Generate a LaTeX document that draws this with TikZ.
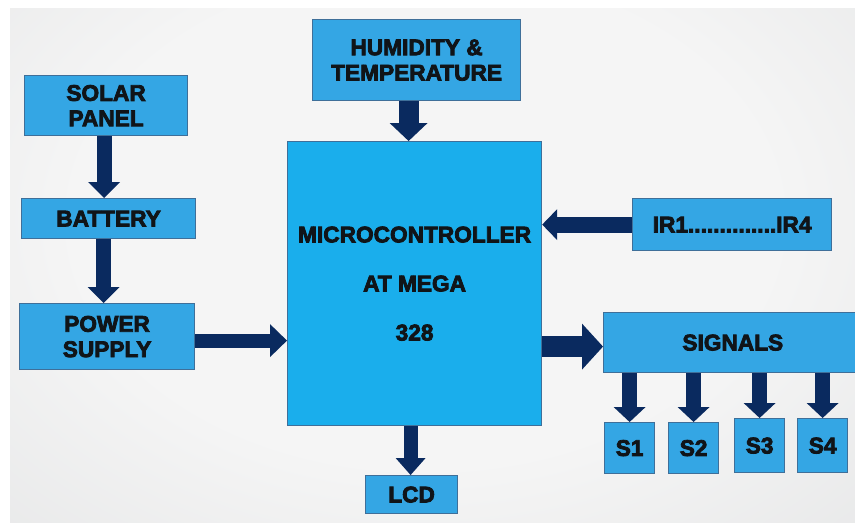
\documentclass[tikz,border=0pt]{standalone}
\usepackage{fontspec}
\newfontfamily\blk{Liberation Sans}[BoldFeatures={FakeBold=3.5}]
\usetikzlibrary{arrows.meta,calc}
\definecolor{boxfill}{HTML}{34A6E4}
\definecolor{microfill}{HTML}{1AAEEC}
\definecolor{boxline}{HTML}{3F6F99}
\definecolor{arrowcol}{HTML}{0A2A5F}
\definecolor{txtcol}{HTML}{101418}
\definecolor{bgin}{HTML}{F5F5F5}
\definecolor{bgout}{HTML}{C6C8CA}
\pgfdeclareradialshading{bgshade}{\pgfpoint{0bp}{0bp}}{color(0bp)=(bgin); color(18bp)=(bgin); color(72bp)=(bgout)}
\tikzset{
  box/.style={draw=boxline, fill=boxfill, line width=0.9pt, inner sep=0pt,
    align=center, anchor=north west, text=txtcol,
    font=\blk\bfseries\fontsize{17}{19}\selectfont},
  barrow/.style n args={3}{draw=arrowcol, line width=#1,
    arrows={-Triangle[width=#2,length=#3,line width=0pt]}}
}
\begin{document}
\begin{tikzpicture}[x=0.75pt,y=-0.75pt]
\useasboundingbox (0,0) rectangle (855,522);
\fill[white] (0,0) rectangle (855,522);
\begin{scope}
\clip (10,8) rectangle (855,522);
\shade[shading=bgshade] (-60,-120) rectangle (910,560);
\end{scope}

\node[box, minimum width=122.25pt, minimum height=45pt] (solar) at (24,75) {SOLAR\\PANEL};
\node[box, minimum width=130.5pt, minimum height=30pt] (battery) at (21,198) {BATTERY};
\node[box, minimum width=131.25pt, minimum height=49.5pt] (power) at (19,303) {POWER\\SUPPLY};
\node[box, minimum width=156pt, minimum height=60.75pt] (hum) at (312,19) {HUMIDITY \&\\TEMPERATURE};
\node[box, fill=microfill, minimum width=190.5pt, minimum height=213pt] (micro) at (287,141)
  {MICROCONTROLLER\\[17.75pt]AT MEGA\\[17.75pt]328};
\node[box, minimum width=149.25pt, minimum height=39pt] (ir) at (632,198) {IR1..............IR4};
\node[box, minimum width=200.25pt, minimum height=45pt, text width=190pt, align=left] (sig) at (603,312) {\hspace*{54pt}SIGNALS};
\node[box, minimum width=37.5pt, minimum height=38.25pt] (s1) at (604,422) {S1};
\node[box, minimum width=37.5pt, minimum height=38.25pt] (s2) at (668,422) {S2};
\node[box, minimum width=37.5pt, minimum height=40.5pt] (s3) at (734,418) {S3};
\node[box, minimum width=37.5pt, minimum height=40.5pt] (s4) at (797,418) {S4};
\node[box, minimum width=69pt, minimum height=28.5pt] (lcd) at (365,475) {LCD};

\coordinate (a1) at ($(solar.south)+(-2,0)$);
\coordinate (a2) at ($(battery.south)+(-5,0)$);
\coordinate (a3) at ($(power.east)+(0,4)$);
\coordinate (a4) at ($(hum.south)+(-8,0)$);
\coordinate (a5) at ($(sig.west)+(0,4)$);
\coordinate (a6) at ($(micro.south)+(-4,0)$);

\draw[barrow={11.25pt}{24pt}{12pt}] (a1) -- (a1 |- battery.north);
\draw[barrow={11.25pt}{24pt}{12pt}] (a2) -- (a2 |- power.north);
\draw[barrow={10.5pt}{24.75pt}{12.75pt}] (a3) -- (a3 -| micro.west);
\draw[barrow={15pt}{28.5pt}{13.5pt}] (a4) -- (a4 |- micro.north);
\draw[barrow={12pt}{23.25pt}{11.25pt}] (ir.west) -- (ir.west -| micro.east);
\draw[barrow={15.75pt}{34.5pt}{15.75pt}] (a5 -| micro.east) -- (a5);
\draw[barrow={10.5pt}{22.5pt}{12.75pt}] (a6) -- (a6 |- lcd.north);
\foreach \s in {s1,s2,s3,s4}
  \draw[barrow={11.25pt}{24pt}{11.25pt}] (\s.north |- sig.south) -- (\s.north);
\end{tikzpicture}
\end{document}
